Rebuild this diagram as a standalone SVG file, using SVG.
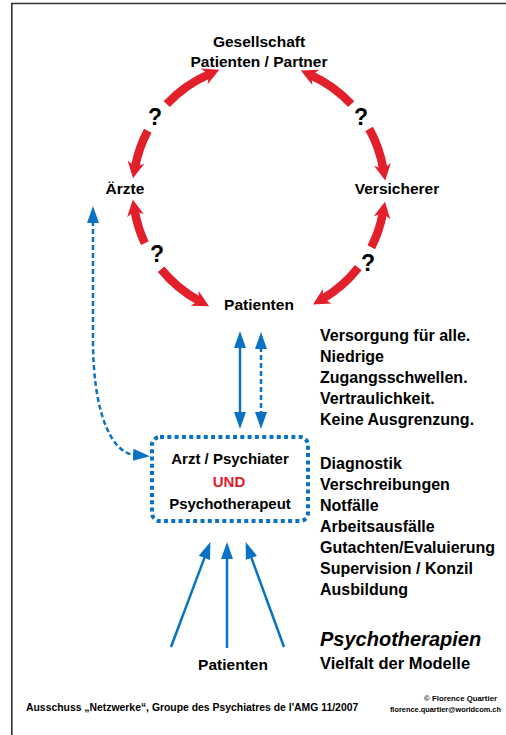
<svg xmlns="http://www.w3.org/2000/svg" width="506" height="735" viewBox="0 0 506 735">
  <style>
    text { font-family: "Liberation Sans", Arial, sans-serif; font-weight: bold; fill: #000; }
    .lbl { font-size: 15.5px; text-anchor: middle; }
    .box { font-size: 15px; text-anchor: middle; }
    .lst { font-size: 16px; }
    .q { font-size: 23px; text-anchor: middle; }
    .red { fill: none; stroke: #e2202c; stroke-width: 8.5; }
    .blue { fill: none; stroke: #0a72c2; stroke-width: 2.5; }
    .dash { stroke-dasharray: 5 3; }
  </style>
  <defs>
    <marker id="ra" markerUnits="userSpaceOnUse" viewBox="0 -10 20 20" markerWidth="20" markerHeight="20" refX="5" refY="0" orient="auto">
      <path d="M0,-8.5 L16.5,0 L0,8.5 L5,0 z" fill="#e2202c"/>
    </marker>
    <marker id="ba" markerUnits="userSpaceOnUse" viewBox="0 -10 20 20" markerWidth="20" markerHeight="20" refX="2" refY="0" orient="auto-start-reverse">
      <path d="M0,-6 L17,0 L0,6 z" fill="#0a72c2"/>
    </marker>
  </defs>

  <g id="frame" stroke="#333" stroke-width="1.6" fill="none">
    <path d="M11,3.5 H506 M11.8,3 V735"/>
  </g>

  <g id="connectors">
    <path class="red" d="M166.8,104.1 A126,126 0 0 1 208.8,74.4" marker-end="url(#ra)"/>
    <path class="red" d="M147.8,130.8 A126,126 0 0 0 135.1,167.0" marker-end="url(#ra)"/>
    <path class="red" d="M144.8,243.2 A126,126 0 0 1 134.7,210.8" marker-end="url(#ra)"/>
    <path class="red" d="M161.1,269.3 A126,126 0 0 0 198.9,300.7" marker-end="url(#ra)"/>
    <path class="red" d="M371.3,247.2 A126,126 0 0 0 382.9,213.0" marker-end="url(#ra)"/>
    <path class="red" d="M358.3,267.6 A126,126 0 0 1 322.9,298.6" marker-end="url(#ra)"/>
    <path class="red" d="M351.2,104.1 A126,126 0 0 0 311.3,75.3" marker-end="url(#ra)"/>
    <path class="red" d="M369.2,128.9 A126,126 0 0 1 383.3,169.2" marker-end="url(#ra)"/>

    <path class="blue" d="M240,346 V414" marker-start="url(#ba)" marker-end="url(#ba)"/>
    <path class="blue dash" d="M261,347 V414" marker-start="url(#ba)" marker-end="url(#ba)"/>
    <path class="blue dash" d="M93,221 V340 C93,410 110,453 135,455" marker-start="url(#ba)" marker-end="url(#ba)"/>

    <path class="blue" d="M171,647 L205.1,556.1" marker-end="url(#ba)"/>
    <path class="blue" d="M227,648 V557" marker-end="url(#ba)"/>
    <path class="blue" d="M284,647 L250.8,556.1" marker-end="url(#ba)"/>
  </g>

  <g id="questions">
    <text class="q" x="155" y="125">?</text>
    <text class="q" x="361" y="125">?</text>
    <text class="q" x="157" y="262">?</text>
    <text class="q" x="368" y="271">?</text>
  </g>

  <g id="node-gesellschaft">
    <text class="lbl" x="259" y="46.5">Gesellschaft</text>
    <text class="lbl" x="259" y="66.5">Patienten / Partner</text>
  </g>
  <g id="node-aerzte">
    <text class="lbl" x="125" y="194">Ärzte</text>
  </g>
  <g id="node-versicherer">
    <text class="lbl" x="397" y="194">Versicherer</text>
  </g>
  <g id="node-patienten">
    <text class="lbl" x="259" y="310">Patienten</text>
  </g>

  <g id="node-arzt">
    <rect x="152" y="437" width="156" height="84" rx="8" fill="none" stroke="#0a72c2" stroke-width="4" stroke-dasharray="4 3.3"/>
    <text class="box" x="230" y="463.5">Arzt / Psychiater</text>
    <text class="box" x="229" y="486.5" style="fill:#e2202c">UND</text>
    <text class="box" x="230" y="508.5">Psychotherapeut</text>
  </g>

  <g id="node-patienten-bottom">
    <text class="lbl" x="233" y="669.5">Patienten</text>
  </g>

  <g id="list-rights">
    <text class="lst" x="320" y="341">Versorgung für alle.</text>
    <text class="lst" x="320" y="362">Niedrige</text>
    <text class="lst" x="320" y="383">Zugangsschwellen.</text>
    <text class="lst" x="320" y="404">Vertraulichkeit.</text>
    <text class="lst" x="320" y="425">Keine Ausgrenzung.</text>
  </g>
  <g id="list-tasks">
    <text class="lst" x="320" y="469">Diagnostik</text>
    <text class="lst" x="320" y="490">Verschreibungen</text>
    <text class="lst" x="320" y="511">Notfälle</text>
    <text class="lst" x="320" y="532">Arbeitsausfälle</text>
    <text class="lst" x="320" y="553">Gutachten/Evaluierung</text>
    <text class="lst" x="320" y="574">Supervision / Konzil</text>
    <text class="lst" x="320" y="595">Ausbildung</text>
  </g>
  <g id="psychotherapien">
    <text x="320" y="646" style="font-size:20px;font-style:italic">Psychotherapien</text>
    <text x="320" y="669" style="font-size:16.5px">Vielfalt der Modelle</text>
  </g>

  <g id="footer">
    <text x="26" y="711" style="font-size:10.4px">Ausschuss „Netzwerke“, Groupe des Psychiatres de l'AMG 11/2007</text>
    <text x="497" y="700.5" style="font-size:7.8px;text-anchor:end">© Florence Quartier</text>
    <text x="501" y="711.5" style="font-size:7.4px;text-anchor:end">florence.quartier@worldcom.ch</text>
  </g>
</svg>
